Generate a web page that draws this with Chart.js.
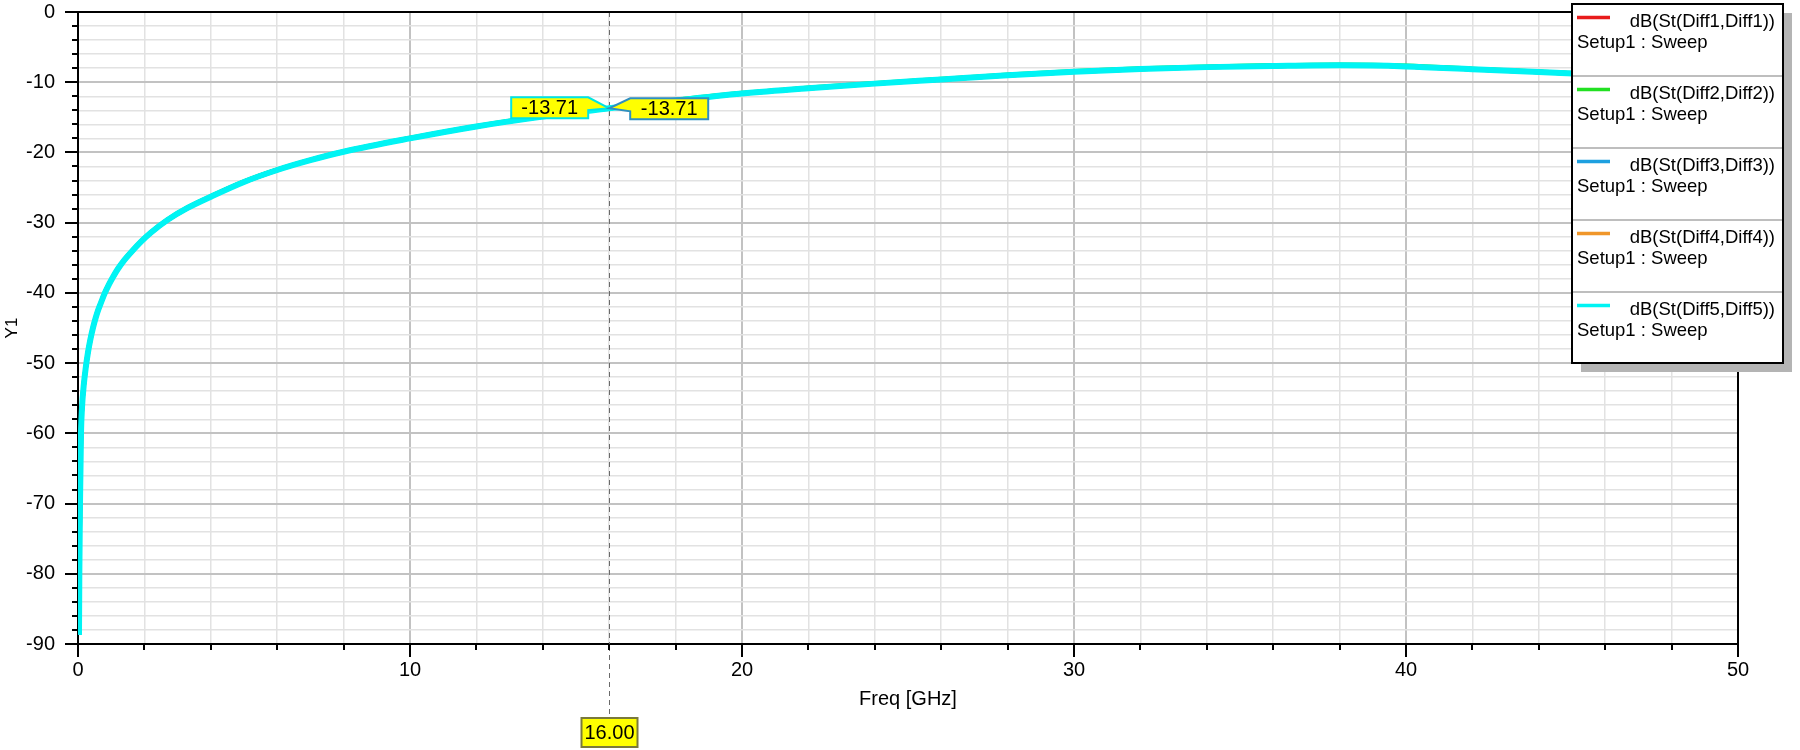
<!DOCTYPE html>
<html><head><meta charset="utf-8">
<script src="https://cdn.jsdelivr.net/npm/chart.js@4.4.0/dist/chart.umd.min.js"></script>
<style>html,body{margin:0;padding:0;background:#fff;}#wrap{width:1800px;height:750px;}</style>
</head><body><div id="wrap"><canvas id="c" width="1800" height="750"></canvas></div>
<script>
const freqGHz = [0.03,0.04,0.06,0.09,0.12,0.17,0.23,0.3,0.37,0.45,0.53,0.61,0.7,0.8,0.9,1.0,1.2,1.4,1.6,1.9,2.2,2.7,3.3,4.0,5.0,6.0,7.0,8.0,10,12,14,16,18,20,22,24,26,28,30,32,34,36,38,40,42,44,46,48,50];
const diff5 = [-88.7,-80.0,-70.0,-60.0,-56.4,-53.3,-50.8,-48.5,-46.7,-45.0,-43.6,-42.4,-41.3,-40.1,-39.1,-38.2,-36.6,-35.3,-34.2,-32.7,-31.4,-29.6,-27.9,-26.3,-24.2,-22.5,-21.1,-19.9,-18.0,-16.3,-14.9,-13.71,-12.6,-11.6,-10.85,-10.2,-9.6,-9.0,-8.5,-8.1,-7.85,-7.7,-7.6,-7.75,-8.15,-8.55,-8.95,-9.3,-9.7];
const diff1 = [-88.6,-80.0,-70.0,-60.0,-56.4,-53.3,-50.8,-48.5,-46.7,-45.0,-43.6,-42.4,-41.3,-40.1,-39.1,-38.2,-36.6,-35.3,-34.2,-32.7,-31.4,-29.6,-27.9,-26.3,-24.2,-22.5,-21.1,-19.9,-18.0,-16.3,-14.9,-13.70,-12.6,-11.6,-10.85,-10.2,-9.6,-9.0,-8.5,-8.1,-7.85,-7.7,-7.6,-7.75,-8.15,-8.55,-8.95,-9.3,-9.7];
const diff2 = [-88.6,-79.9,-70.0,-60.0,-56.3,-53.2,-50.7,-48.4,-46.6,-44.95,-43.55,-42.35,-41.25,-40.05,-39.05,-38.15,-36.55,-35.25,-34.15,-32.65,-31.35,-29.55,-27.85,-26.25,-24.15,-22.45,-21.05,-19.85,-17.95,-16.25,-14.85,-13.68,-12.55,-11.55,-10.8,-10.15,-9.55,-8.95,-8.45,-8.05,-7.8,-7.6,-7.5,-7.65,-8.1,-8.5,-8.9,-9.25,-9.65];
const diff3 = [-88.7,-80.0,-70.0,-60.0,-56.4,-53.3,-50.8,-48.5,-46.7,-45.0,-43.6,-42.4,-41.3,-40.1,-39.1,-38.2,-36.6,-35.3,-34.2,-32.7,-31.4,-29.6,-27.9,-26.3,-24.2,-22.5,-21.1,-19.9,-18.0,-16.3,-14.9,-13.71,-12.6,-11.6,-10.85,-10.2,-9.6,-9.0,-8.5,-8.1,-7.85,-7.7,-7.6,-7.75,-8.15,-8.55,-8.95,-9.3,-9.7];
const diff4 = [-88.6,-80.0,-70.0,-60.0,-56.4,-53.3,-50.8,-48.5,-46.7,-45.0,-43.6,-42.4,-41.3,-40.1,-39.1,-38.2,-36.6,-35.3,-34.2,-32.7,-31.4,-29.6,-27.9,-26.3,-24.2,-22.5,-21.1,-19.9,-18.0,-16.3,-14.9,-13.70,-12.6,-11.6,-10.85,-10.2,-9.6,-9.0,-8.5,-8.1,-7.85,-7.7,-7.6,-7.75,-8.15,-8.55,-8.95,-9.3,-9.7];
const seriesLabels = ['dB(St(Diff1,Diff1))','dB(St(Diff2,Diff2))','dB(St(Diff3,Diff3))','dB(St(Diff4,Diff4))','dB(St(Diff5,Diff5))'];
const seriesSubLabel = 'Setup1 : Sweep';
const seriesColors = ['#e81c1c','#22e022','#1ea0e0','#f0962a','#00f4f4'];
const xTickLabels = [0,10,20,30,40,50];
const yTickLabels = [0,-10,-20,-30,-40,-50,-60,-70,-80,-90];
const xTitle = 'Freq [GHz]';
const yTitle = 'Y1';
const markerFreq = 16;
const markerText = '16.00';
const markerValues = [-13.71,-13.71];
const markerValueColors = ['#00e4e4','#2f8fc0'];

const FONT = "'Liberation Sans', Arial, sans-serif";
const allSeries = [diff1,diff2,diff3,diff4,diff5];

const datasets = allSeries.map((arr,i)=>({
  label: seriesLabels[i],
  data: freqGHz.map((f,j)=>({x:f,y:arr[j]})),
  borderColor: seriesColors[i],
  backgroundColor: seriesColors[i],
  borderWidth: i===4 ? 6 : 4.5,
  pointRadius: 0,
  cubicInterpolationMode: 'monotone',
  order: allSeries.length-1-i
}));

const isMajor = (v)=> Math.abs(v % 10) < 1e-6;

const hfss = {
  id:'hfss',
  beforeDatasetsDraw(chart){
    const {ctx, chartArea:a, scales:{x}} = chart;
    const mx = Math.round(x.getPixelForValue(markerFreq))+0.5;
    ctx.save();
    ctx.strokeStyle='#6a6a6a'; ctx.lineWidth=1; ctx.setLineDash([5,4]);
    ctx.beginPath(); ctx.moveTo(mx,a.top); ctx.lineTo(mx,a.bottom); ctx.stroke();
    ctx.restore();
  },
  afterDraw(chart){
    const {ctx, chartArea:a, scales:{x,y}} = chart;
    ctx.save();
    const mx = Math.round(x.getPixelForValue(markerFreq))+0.5;
    ctx.strokeStyle='#6a6a6a'; ctx.lineWidth=1; ctx.setLineDash([5,4]);
    ctx.beginPath(); ctx.moveTo(mx,a.bottom+2); ctx.lineTo(mx,717); ctx.stroke();
    ctx.setLineDash([]);
    // top & right border
    ctx.strokeStyle='#000'; ctx.lineWidth=2;
    ctx.beginPath(); ctx.moveTo(a.left-13,a.top); ctx.lineTo(a.right,a.top); ctx.lineTo(a.right,a.bottom+13); ctx.stroke();
    // y ticks
    for(let v=-90; v<=0; v+=2){
      const py = Math.round(y.getPixelForValue(v));
      const len = isMajor(v)?13:6;
      ctx.beginPath(); ctx.moveTo(a.left-len,py); ctx.lineTo(a.left,py); ctx.stroke();
    }
    // x ticks
    for(let v=0; v<=50; v+=2){
      const px = Math.round(x.getPixelForValue(v));
      const len = isMajor(v)?13:6;
      ctx.beginPath(); ctx.moveTo(px,a.bottom); ctx.lineTo(px,a.bottom+len); ctx.stroke();
    }
    // marker x label
    ctx.fillStyle='#ffff00'; ctx.strokeStyle='#7a7a3a'; ctx.lineWidth=2;
    ctx.fillRect(mx-28,718,56,29); ctx.strokeRect(mx-28,718,56,29);
    ctx.fillStyle='#000'; ctx.font='20px '+FONT; ctx.textAlign='center'; ctx.textBaseline='middle';
    ctx.fillText(markerText, mx, 733);
    // value callouts
    const tipX = x.getPixelForValue(markerFreq);
    const tipY = y.getPixelForValue(markerValues[0]);
    const drawCallout = (side, val, col)=>{
      ctx.beginPath();
      if(side<0){
        const r = tipX-21, l = r-77, t = tipY-11, b = t+21;
        ctx.moveTo(l,t); ctx.lineTo(r,t); ctx.lineTo(tipX,tipY); ctx.lineTo(r,tipY+2); ctx.lineTo(r,b); ctx.lineTo(l,b); ctx.closePath();
      } else {
        const l = tipX+21, r = l+78, t = tipY-10, b = t+21;
        ctx.moveTo(l,t); ctx.lineTo(r,t); ctx.lineTo(r,b); ctx.lineTo(l,b); ctx.lineTo(l,tipY+3); ctx.lineTo(tipX,tipY); ctx.closePath();
      }
      ctx.fillStyle='#ffff00'; ctx.fill();
      ctx.strokeStyle=col; ctx.lineWidth=2; ctx.stroke();
      ctx.fillStyle='#000'; ctx.font='20px '+FONT; ctx.textAlign='center'; ctx.textBaseline='middle';
      const cx = side<0 ? tipX-21-38.5 : tipX+21+39;
      ctx.fillText(val.toFixed(2), cx, tipY+(side<0?0:1));
    };
    drawCallout(-1, markerValues[0], markerValueColors[0]);
    drawCallout(1, markerValues[1], markerValueColors[1]);
    // legend
    const L=1572, T=4, W=211, H=359, rowH=72;
    ctx.fillStyle='#b4b4b4'; ctx.fillRect(L+9,T+9,W,H);
    ctx.fillStyle='#fff'; ctx.fillRect(L,T,W,H);
    ctx.strokeStyle='#a8a8a8'; ctx.lineWidth=1.5;
    for(let k=1;k<seriesLabels.length;k++){
      ctx.beginPath(); ctx.moveTo(L,T+rowH*k); ctx.lineTo(L+W,T+rowH*k); ctx.stroke();
    }
    ctx.strokeStyle='#000'; ctx.lineWidth=2; ctx.strokeRect(L,T,W,H);
    seriesLabels.forEach((lab,k)=>{
      const oy = T+rowH*k;
      ctx.strokeStyle=seriesColors[k]; ctx.lineWidth=3.5;
      ctx.beginPath(); ctx.moveTo(L+5,oy+13.5); ctx.lineTo(L+38,oy+13.5); ctx.stroke();
      ctx.fillStyle='#000'; ctx.font='18.5px '+FONT; ctx.textBaseline='middle';
      ctx.textAlign='right'; ctx.fillText(lab, L+W-8, oy+17.5);
      ctx.textAlign='left'; ctx.fillText(seriesSubLabel, L+5, oy+38.5);
    });
    ctx.restore();
  }
};

new Chart(document.getElementById('c'), {
  type:'line',
  data:{datasets},
  options:{
    responsive:false, animation:false, devicePixelRatio:1,
    layout:{padding:{left:0,top:12,right:62,bottom:0}},
    plugins:{legend:{display:false}, tooltip:{enabled:false}},
    scales:{
      x:{type:'linear', min:0, max:50,
        afterFit(s){ s.height=106; s.paddingLeft=0; s.paddingRight=0; },
        ticks:{stepSize:2, autoSkip:false, maxRotation:0, padding:14, color:'#000',
          font:{family:FONT,size:20},
          callback:(v)=> xTickLabels.includes(v)? String(v):''},
        grid:{drawTicks:false,
          color:(c)=> c.tick && isMajor(c.tick.value)?'#c2c2c2':'#e2e2e2',
          lineWidth:(c)=> c.tick && isMajor(c.tick.value)?2:1.5},
        border:{display:true,color:'#000',width:2},
        title:{display:true,text:xTitle,color:'#000',font:{family:FONT,size:20},padding:{top:0,bottom:39}}
      },
      y:{type:'linear', min:-90, max:0,
        afterFit(s){ s.width=78; s.paddingTop=0; s.paddingBottom=0; },
        ticks:{stepSize:2, autoSkip:false, padding:23, color:'#000',
          font:{family:FONT,size:20},
          callback:(v)=> yTickLabels.includes(v)? String(v):''},
        grid:{drawTicks:false,
          color:(c)=> c.tick && isMajor(c.tick.value)?'#c2c2c2':'#e2e2e2',
          lineWidth:(c)=> c.tick && isMajor(c.tick.value)?2:1.5},
        border:{display:true,color:'#000',width:2},
        title:{display:true,text:yTitle,color:'#000',font:{family:FONT,size:17},padding:{top:2,bottom:0}}
      }
    }
  },
  plugins:[hfss]
});
</script></body></html>
